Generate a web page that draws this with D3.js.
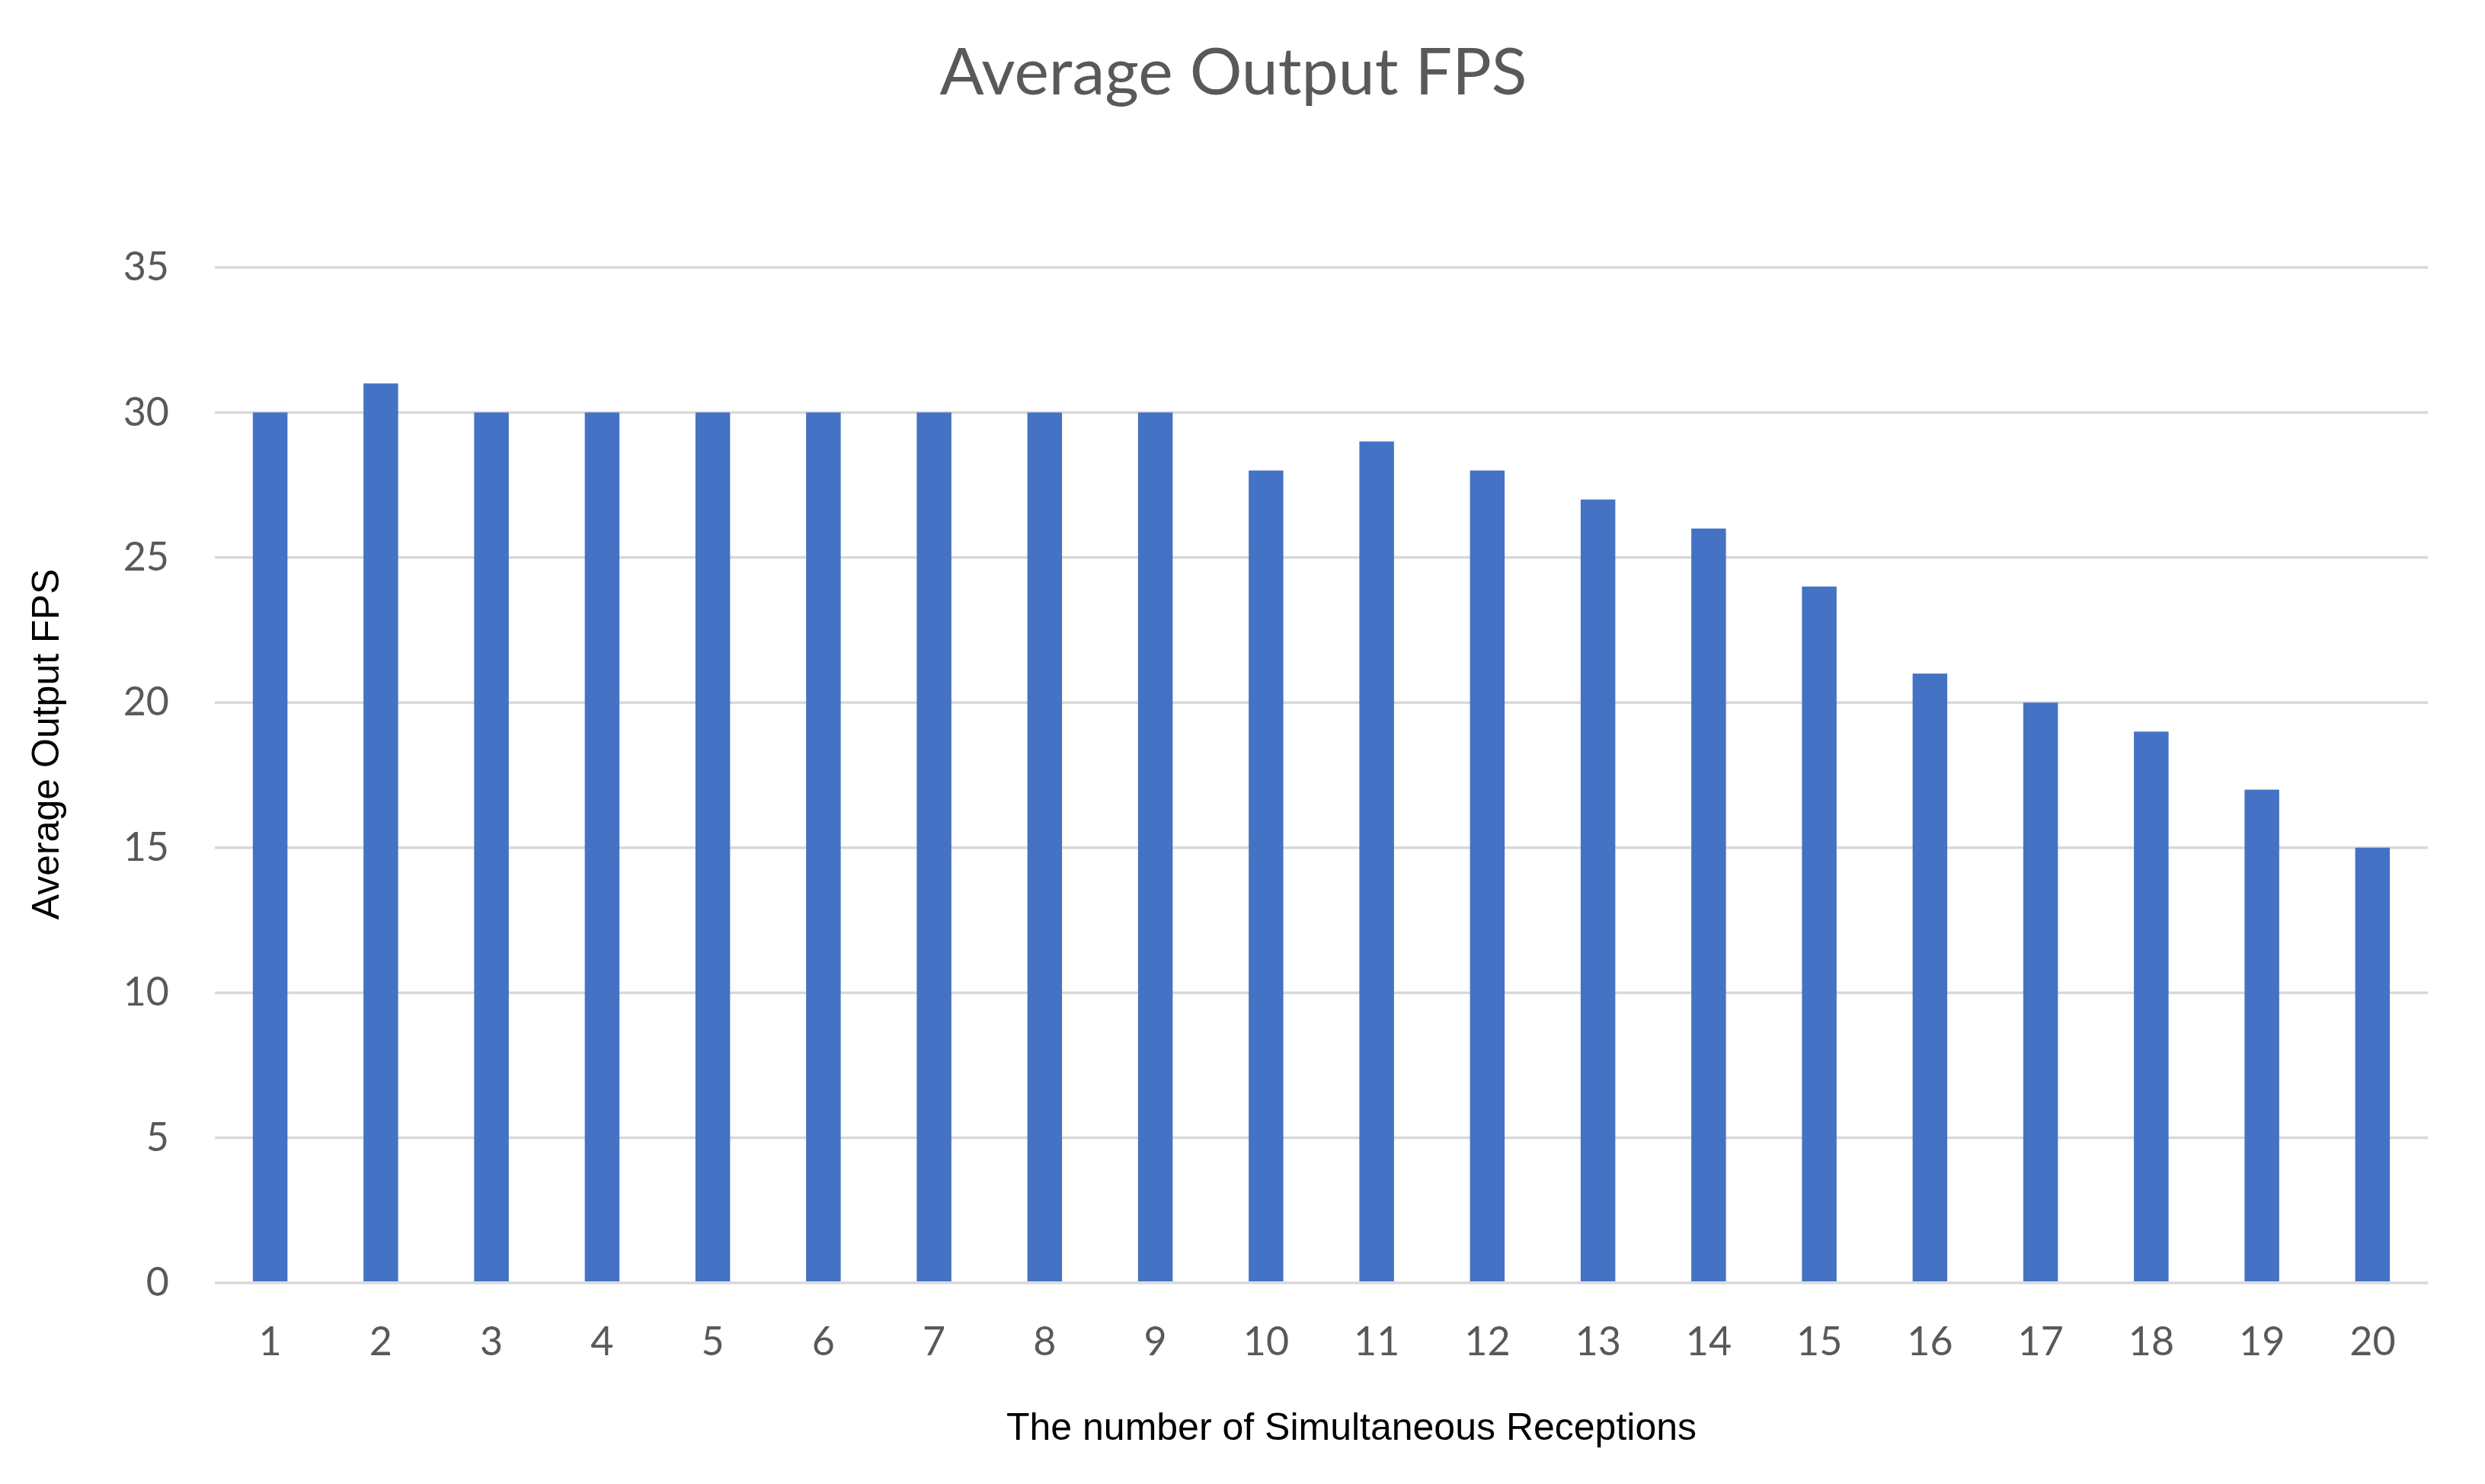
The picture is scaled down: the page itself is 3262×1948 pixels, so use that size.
<!DOCTYPE html>
<html>
<head>
<meta charset="utf-8">
<script src="https://cdn.jsdelivr.net/npm/d3@7"></script>
<style>
  html, body { margin: 0; padding: 0; background: #fff; }
</style>
</head>
<body>
<svg id="chart" width="3262" height="1948"></svg>
<script>
// donnees du graphique
const categories = ["1","2","3","4","5","6","7","8","9","10","11","12","13","14","15","16","17","18","19","20"];
const fpsValues = [30, 31, 30, 30, 30, 30, 30, 30, 30, 28, 29, 28, 27, 26, 24, 21, 20, 19, 17, 15];
const yTicks = [0, 5, 10, 15, 20, 25, 30, 35];

const chartTitle = "Average Output FPS";
const xTitle = "The number of Simultaneous Receptions";
const yTitle = "Average Output FPS";

const svg = d3.select("#chart");
const plotLeft = 282, plotRight = 3187, plotTop = 351, plotBottom = 1684;
const tickFont = "Lato, 'Open Sans', sans-serif";

// escalas
const x = d3.scaleBand()
	.domain(categories)
	.range([plotLeft, plotRight])
	.paddingInner(0.687)
	.paddingOuter(0.3435);

const y = d3.scaleLinear()
	.domain([0, 35])
	.range([plotBottom, plotTop]);

// grade horizontal
svg.append("g")
	.selectAll("line")
	.data(yTicks)
	.join("line")
	.attr("x1", plotLeft)
	.attr("x2", plotRight)
	.attr("y1", d => y(d))
	.attr("y2", d => y(d))
	.attr("stroke", "#d9d9d9")
	.attr("stroke-width", 3.5);

// barras
svg.append("g")
	.selectAll("rect")
	.data(fpsValues)
	.join("rect")
	.attr("x", (d, i) => x(categories[i]))
	.attr("width", x.bandwidth())
	.attr("y", d => y(d))
	.attr("height", d => y(0) - y(d) - 2)
	.attr("fill", "#4472c4");

// eixo y
const yAxis = svg.append("g")
	.attr("transform", `translate(${plotLeft - 60},0)`)
	.call(d3.axisLeft(y).tickValues(yTicks).tickSize(0).tickPadding(0));
yAxis.select(".domain").remove();
yAxis.selectAll("text")
	.attr("font-family", tickFont)
	.attr("font-size", 52)
	.attr("fill", "#595959");

// eixo x
const xAxis = svg.append("g")
	.attr("transform", `translate(0,${plotBottom + 58})`)
	.call(d3.axisBottom(x).tickSize(0).tickPadding(0));
xAxis.select(".domain").remove();
xAxis.selectAll("text")
	.attr("font-family", tickFont)
	.attr("font-size", 52)
	.attr("fill", "#595959");

// titulos
svg.append("text")
	.attr("x", 1619)
	.attr("y", 124)
	.attr("text-anchor", "middle")
	.attr("font-family", tickFont)
	.attr("font-size", 86)
	.attr("fill", "#595959")
	.text(chartTitle);

svg.append("text")
	.attr("x", 1774)
	.attr("y", 1890)
	.attr("text-anchor", "middle")
	.attr("font-family", "'Liberation Sans', Arial, sans-serif")
	.attr("font-size", 50)
	.attr("fill", "#000")
	.text(xTitle);

svg.append("text")
	.attr("transform", "translate(77,977) rotate(-90)")
	.attr("text-anchor", "middle")
	.attr("font-family", "'Liberation Sans', Arial, sans-serif")
	.attr("font-size", 50)
	.attr("fill", "#000")
	.text(yTitle);
</script>
</body>
</html>
